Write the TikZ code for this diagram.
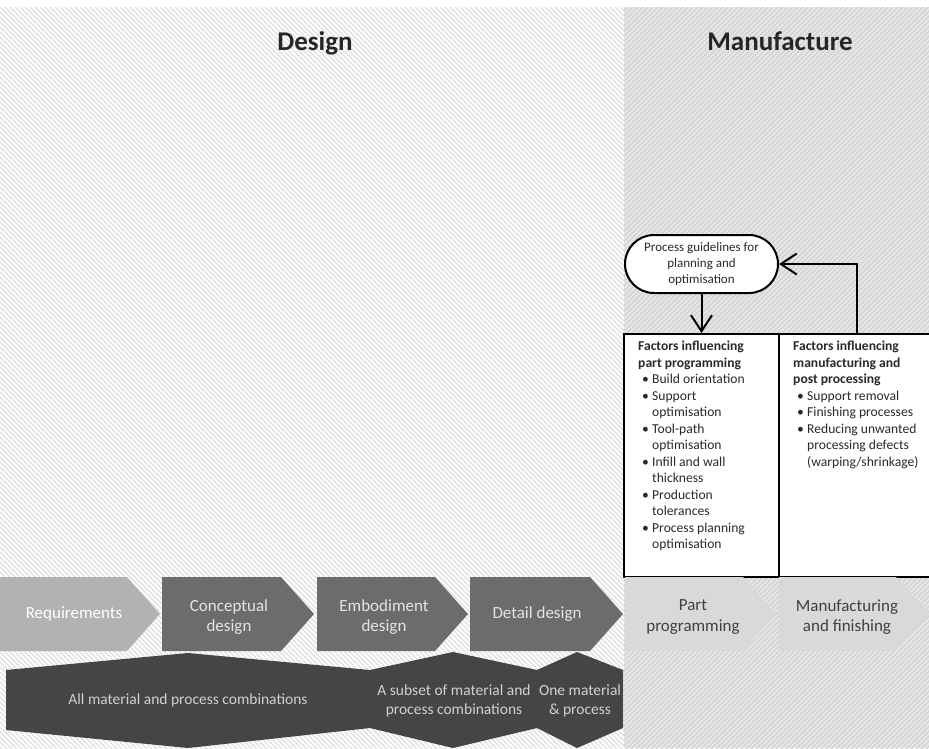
\documentclass[tikz,border=0pt]{standalone}
\usepackage{fontspec}
\setmainfont{Carlito}
\usetikzlibrary{arrows.meta,calc}
\definecolor{hatchD}{HTML}{DEDEDE}
\definecolor{hatchM}{HTML}{D2D2D2}
\definecolor{baseM}{HTML}{E8E8E8}
\definecolor{titlec}{HTML}{262626}
\definecolor{reqfill}{HTML}{B2B2B2}
\definecolor{desfill}{HTML}{6C6C6C}
\definecolor{manfill}{HTML}{D9D9D9}
\definecolor{bandfill}{HTML}{454545}
\definecolor{bandtext}{HTML}{D0D0D0}
\definecolor{destext}{HTML}{E4E4E4}
\definecolor{mantext}{HTML}{404040}
\definecolor{factortext}{HTML}{2A2A2A}
\newcommand\fbul{\hspace*{4pt}\makebox[10pt][l]{\textbullet}}
\newcommand\find{\hspace*{14pt}}
\newcommand\chevshape[3]{\fill[#3] (#1,577) -- (#2-33,577) -- (#2,614) -- (#2-33,651) -- (#1,651) -- cycle;}
\begin{document}
\begin{tikzpicture}[x=1pt,y=-1pt,
  hlineD/.style={line width=1.3pt, draw=hatchD},
  hlineM/.style={line width=1.4pt, draw=hatchM},
  title/.style={font=\fontsize{27}{32}\selectfont\bfseries, text=titlec, anchor=base, inner sep=0},
  chevtxt/.style={font=\fontsize{17}{20.5}\selectfont, align=center, inner sep=0},
  bandtxt/.style={font=\fontsize{15.5}{18.5}\selectfont, align=center, text=bandtext, inner sep=0},
  guidebox/.style={draw, line width=2pt, fill=white, rounded corners=29pt, minimum width=153pt, minimum height=58pt, align=center, font=\fontsize{13}{15.7}\selectfont, inner sep=0, text=factortext},
  factorbox/.style={draw, line width=1.5pt, fill=white, anchor=north west, inner sep=0},
  factortxt/.style={anchor=north west, align=left, font=\fontsize{13.6}{16.5}\selectfont, inner sep=0, text=factortext},
  flowarrow/.style={line width=2pt, -{Straight Barb[length=16pt,width=21pt]}},
]
\useasboundingbox (0,0) rectangle (929,748);
\fill[white] (0,0) rectangle (929,748);
% design background
\begin{scope}
\clip (0,7) rectangle (624,748);
\fill[white] (0,7) rectangle (624,748);
\foreach \i in {-760,-755,...,630} \draw[hlineD] (\i,7) -- ++(745,745);
\end{scope}
% manufacture background
\begin{scope}
\clip (624,7) rectangle (929,748);
\fill[baseM] (624,7) rectangle (929,748);
\foreach \i in {-125,-120,...,935} \draw[hlineM] (\i,750) -- ++(745,-745);
\end{scope}
% titles
\node[title] (tdesign) at (315,50) {Design};
\node[title] (tmanuf) at (780,50) {Manufacture};
% guideline box
\node[guidebox] (guide) at (701.5,264) {Process guidelines for\\planning and\\optimisation};
% factor boxes
\node[factorbox, minimum width=155pt, minimum height=243pt] (fpp) at (623,333) {};
\node[factorbox, minimum width=175pt, minimum height=243pt] (fmp) at (778,333) {};
\node[factortxt] (fpptxt) at (638,341) {\textbf{Factors influencing}\\
\textbf{part programming}\\
\fbul Build orientation\\
\fbul Support\\
\find optimisation\\
\fbul Tool-path\\
\find optimisation\\
\fbul Infill and wall\\
\find thickness\\
\fbul Production\\
\find tolerances\\
\fbul Process planning\\
\find optimisation};
\node[factortxt] (fmptxt) at (793,341) {\textbf{Factors influencing}\\
\textbf{manufacturing and}\\
\textbf{post processing}\\
\fbul Support removal\\
\fbul Finishing processes\\
\fbul Reducing unwanted\\
\find processing defects\\
\find (warping/shrinkage)};
% arrows
\draw[flowarrow] (guide.south) -- (guide.south |- fpp.north);
\coordinate (fbk) at (857,333);
\draw[flowarrow] (fbk) |- (guide.east);
% chevrons
\chevshape{0}{160}{reqfill}
\chevshape{162}{314}{desfill}
\chevshape{317}{468}{desfill}
\chevshape{470}{623}{desfill}
\chevshape{625}{776}{manfill}
\chevshape{779}{929}{manfill}
\node[chevtxt, text=white] (req) at (74,614) {Requirements};
\node[chevtxt, text=destext] (concept) at (229,617) {Conceptual\\design};
\node[chevtxt, text=destext] (embod) at (384,617) {Embodiment\\design};
\node[chevtxt, text=destext] (detail) at (537,614) {Detail design};
\node[chevtxt, text=mantext] (partprog) at (693,617) {Part\\programming};
\node[chevtxt, text=mantext] (manfin) at (847,617) {Manufacturing\\and finishing};
% bottom band
\fill[bandfill] (6,670) -- (188,653) -- (370,670) -- (453,652) -- (537,670) -- (577,652) -- (623,670)
  -- (623,728) -- (577,748) -- (537,728) -- (453,748) -- (370,728) -- (188,748) -- (6,730) -- cycle;
\node[bandtxt] (allmat) at (188,700) {All material and process combinations};
\node[bandtxt] (subset) at (454,701) {A subset of material and\\process combinations};
\node[bandtxt] (onemat) at (580,701) {One material\\\& process};
\end{tikzpicture}
\end{document}
